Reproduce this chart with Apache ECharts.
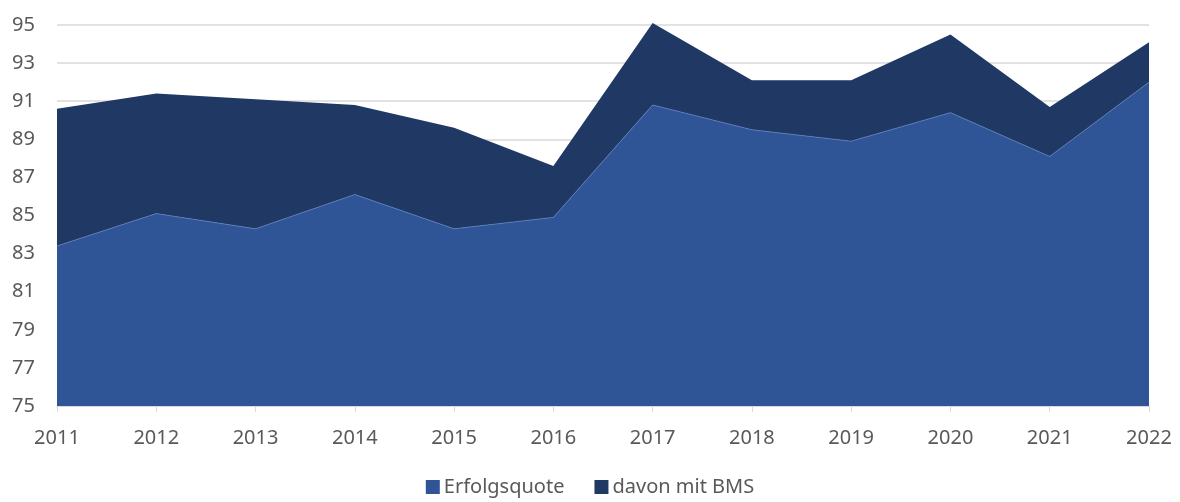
<!DOCTYPE html>
<html>
<head>
<meta charset="utf-8">
<script src="https://cdn.jsdelivr.net/npm/echarts@6/dist/echarts.min.js"></script>
<style>
  html, body { margin: 0; padding: 0; background: #fff; }
  #chart { width: 1180px; height: 502px; }
</style>
</head>
<body>
<div id="chart"></div>
<script>
// Jahre der Auswertung
const years = ['2011', '2012', '2013', '2014', '2015', '2016', '2017', '2018', '2019', '2020', '2021', '2022'];
// Erfolgsquote in Prozent
const erfolgsquote = [83.4, 85.1, 84.3, 86.1, 84.3, 84.9, 90.8, 89.5, 88.9, 90.4, 88.1, 92.0];
// zusätzlicher Anteil mit BMS (auf die Erfolgsquote gestapelt)
const davonMitBMS = [7.2, 6.3, 6.8, 4.7, 5.3, 2.7, 4.3, 2.6, 3.2, 4.1, 2.6, 2.1];

const font = '"Noto Sans", sans-serif';
const chart = echarts.init(document.getElementById('chart'), null, { renderer: 'canvas' });
chart.setOption({
  animation: false,
  grid: { left: 57, right: 31, top: 25, bottom: 96, containLabel: false },
  legend: {
    top: 472,
    left: 'center',
    itemWidth: 14,
    itemHeight: 14,
    itemGap: 30,
    icon: 'rect',
    textStyle: { color: '#595959', fontSize: 20, fontFamily: font, padding: [0, 0, 0, -1] },
    data: ['Erfolgsquote', 'davon mit BMS']
  },
  xAxis: {
    type: 'category',
    data: years,
    boundaryGap: false,
    axisLine: { lineStyle: { color: '#d9d9d9', width: 1 } },
    axisTick: { show: true, length: 6, lineStyle: { color: '#d9d9d9' } },
    axisLabel: { color: '#595959', fontSize: 20, fontFamily: font, margin: 22 },
    splitLine: { show: false }
  },
  yAxis: {
    type: 'value',
    min: 75,
    max: 95,
    interval: 2,
    axisLine: { show: false },
    axisTick: { show: false },
    axisLabel: { color: '#595959', fontSize: 20, fontFamily: font, margin: 22 },
    splitLine: { lineStyle: { color: '#d9d9d9', width: 1.5 } }
  },
  series: [
    {
      name: 'Erfolgsquote',
      type: 'line',
      stack: 'gesamt',
      data: erfolgsquote,
      symbol: 'none',
      clip: false,
      lineStyle: { width: 0.8, color: '#5b7fc0' },
      itemStyle: { color: '#2F5597' },
      areaStyle: { color: '#2F5597', opacity: 1 }
    },
    {
      name: 'davon mit BMS',
      type: 'line',
      stack: 'gesamt',
      data: davonMitBMS,
      symbol: 'none',
      clip: false,
      lineStyle: { width: 0 },
      itemStyle: { color: '#203864' },
      areaStyle: { color: '#203864', opacity: 1 }
    }
  ]
});
</script>
</body>
</html>
